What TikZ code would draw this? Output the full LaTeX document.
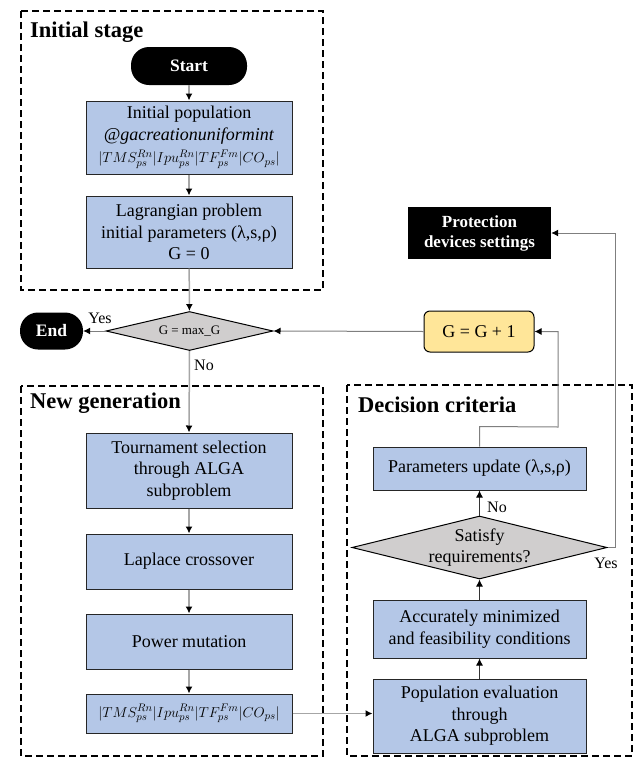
\documentclass[tikz,border=0pt]{standalone}
\usepackage{fontspec}
\setmainfont{Liberation Serif}
\usetikzlibrary{shapes.geometric,arrows.meta,calc}
\definecolor{boxblue}{HTML}{B4C7E7}
\definecolor{diagray}{HTML}{D0CECE}
\definecolor{ggyellow}{HTML}{FFE699}
\definecolor{linegray}{HTML}{A6A6A6}
\definecolor{darkline}{HTML}{7F7F7F}
\newcommand{\vecsol}{{\fontsize{15}{17}\selectfont$\vert TMS_{ps}^{Rn}\vert Ipu_{ps}^{Rn}\vert TF_{ps}^{Fm}\vert CO_{ps}\vert$}}
\begin{document}
\begin{tikzpicture}[x=1pt,y=-1pt,
  bluebox/.style={draw=black!85, line width=1pt, fill=boxblue, align=center,
    font=\fontsize{18}{21.5}\selectfont, inner sep=0pt},
  leftbox/.style={bluebox, minimum width=206pt},
  rightbox/.style={bluebox, minimum width=213pt},
  terminal/.style={fill=black, text=white, font=\bfseries\fontsize{17.5}{20}\selectfont,
    rounded corners=18pt, inner sep=0pt, align=center},
  decision/.style={diamond, draw=black, line width=1pt, fill=diagray, inner sep=0pt},
  groupbox/.style={draw=black, line width=1.5pt, dash pattern=on 7pt off 4pt},
  grouptitle/.style={anchor=west, font=\bfseries\fontsize{22.5}{26}\selectfont, inner sep=0pt},
  flow/.style={draw=linegray, line width=1.5pt, -{Latex[length=7pt,width=7pt,color=black]}},
  flowdark/.style={draw=black!80, line width=1pt, -{Latex[length=7pt,width=7pt,color=black]}},
  flowthin/.style={draw=darkline, line width=1pt, -{Latex[length=7pt,width=7pt,color=black]}},
  answer/.style={font=\fontsize{16}{18}\selectfont, inner sep=0pt}
]
\useasboundingbox (0,0) rectangle (640,758);

% group boxes
\draw[groupbox] (21,11) rectangle (323,290);
\draw[groupbox] (21,386) rectangle (323,756);
\draw[groupbox] (347,385) rectangle (632,756);
\node[grouptitle] (t1) at (30,32) {Initial stage};
\node[grouptitle] (t2) at (30,403) {New generation};
\node[grouptitle] (t3) at (358,405) {Decision criteria};

% initial stage
\node[terminal, minimum width=116pt, minimum height=38pt] (start) at (189,66) {Start};
\node[leftbox, minimum height=73pt] (init) at (189,137.5)
  {Initial population\\ \textit{@gacreationuniformint}\\[1pt] \vecsol};
\node[leftbox, minimum height=72pt] (lag) at (189,232)
  {Lagrangian problem\\initial parameters (λ,s,ρ)\\G = 0};

% main decision
\node[decision, minimum width=167pt, minimum height=39pt,
  label={[font=\fontsize{13}{15}\selectfont]center:G = max\_G}] (dm) at (189.5,331) {};
\node[terminal, minimum width=63pt, minimum height=37pt] (end) at (51.5,331) {End};

% new generation
\node[leftbox, minimum height=75pt] (tour) at (189,470.5)
  {Tournament selection\\through ALGA\\subproblem};
\node[leftbox, minimum height=55pt] (lap) at (189,561.5) {Laplace crossover};
\node[leftbox, minimum height=55pt] (pow) at (189,641.5) {Power mutation};
\node[leftbox, minimum height=39pt] (vec) at (189,713.5) {\vecsol};

% decision criteria
\node[rightbox, minimum height=43pt] (par) at (479.5,468.5) {Parameters update (λ,s,ρ)};
\node[decision, minimum width=255pt, minimum height=63pt,
  label={[align=center,font=\fontsize{18}{21.5}\selectfont]center:Satisfy\\requirements?}] (sat) at (479.5,547.5) {};
\node[rightbox, minimum height=58pt] (acc) at (479.5,629)
  {Accurately minimized\\and feasibility conditions};
\node[rightbox, minimum height=74pt] (pop) at (479.5,716)
  {Population evaluation\\through\\ALGA subproblem};

% right-side nodes
\node[fill=black, text=white, font=\bfseries\fontsize{17}{20}\selectfont, align=center,
  minimum width=143pt, minimum height=52pt, inner sep=0pt] (prot) at (479.5,233)
  {Protection\\devices settings};
\node[draw=black, line width=1pt, fill=ggyellow, rounded corners=6pt,
  font=\fontsize{18}{21.5}\selectfont, minimum width=110pt, minimum height=41pt,
  inner sep=0pt] (gg) at (479,331.5) {G = G + 1};

% connectors
\draw[flow] (start) -- (init);
\draw[flow] (init) -- (lag);
\draw[flow] (lag) -- (dm);
\draw[flowthin] (dm.west) -- (end.east);
\node[answer] (yes1) at (100,318) {Yes};
\draw[flow] (dm.south) -- (tour.north);
\node[answer, anchor=west] (no1) at (194,365) {No};
\draw[flow] (tour) -- (lap);
\draw[flow] (lap) -- (pow);
\draw[flow] (pow) -- (vec);
\draw[flow] (vec.east) -- (vec.east -| pop.west);
\draw[flowdark] (pop) -- (acc);
\draw[flowdark] (acc) -- (sat.south);
\draw[flowdark] (sat.north) -- (par.south);
\node[answer, anchor=west] (no2) at (487,507) {No};
\coordinate (pu1) at ($(par.north)+(0,-20)$);
\coordinate (pu2) at (558,427);
\draw[flowthin] (par.north) -- (pu1) -- (pu2) |- (gg.east);
\draw[flowthin] (gg.west) -- (dm.east);
\coordinate (sy) at (615,547.5);
\draw[flowthin] (sat.east) -- (sy) |- (prot.east);
\node[answer] (yes2) at (606,563) {Yes};
\end{tikzpicture}
\end{document}
